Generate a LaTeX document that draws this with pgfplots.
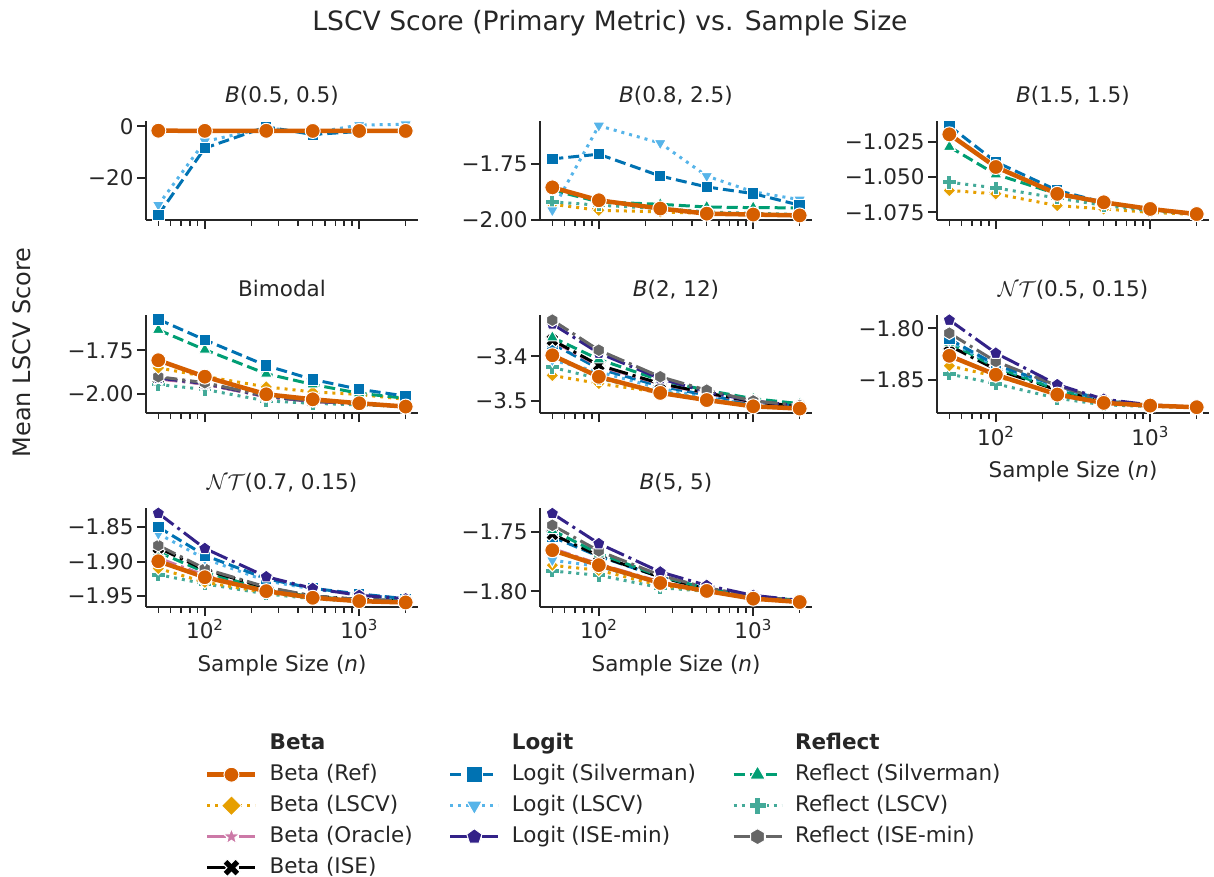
\RequirePackage{fix-cm}
\documentclass[border=0pt]{standalone}
\usepackage{fontspec}
\setmainfont{DejaVu Sans}
\usepackage{pgfplots}
\pgfplotsset{compat=1.18}
\usetikzlibrary{plotmarks}

\definecolor{txt}{HTML}{262626}
\definecolor{cref}{HTML}{D55E00}
\definecolor{cblscv}{HTML}{E69F00}
\definecolor{cbor}{HTML}{CC79A7}
\definecolor{cbise}{HTML}{000000}
\definecolor{clsilv}{HTML}{0072B2}
\definecolor{cllscv}{HTML}{56B4E9}
\definecolor{clise}{HTML}{332288}
\definecolor{crsilv}{HTML}{009E73}
\definecolor{crlscv}{HTML}{44AA99}
\definecolor{crise}{HTML}{666666}

\newcommand\fsT{\fontsize{21.5}{25}\selectfont}

\pgfdeclareplotmark{hexa*}{%
  \pgfpathmoveto{\pgfqpointpolar{90}{\pgfplotmarksize}}%
  \pgfpathlineto{\pgfqpointpolar{150}{\pgfplotmarksize}}%
  \pgfpathlineto{\pgfqpointpolar{210}{\pgfplotmarksize}}%
  \pgfpathlineto{\pgfqpointpolar{270}{\pgfplotmarksize}}%
  \pgfpathlineto{\pgfqpointpolar{330}{\pgfplotmarksize}}%
  \pgfpathlineto{\pgfqpointpolar{30}{\pgfplotmarksize}}%
  \pgfpathclose\pgfusepathqfillstroke}
\pgfdeclareplotmark{fdiam}{%
  \pgfpathmoveto{\pgfqpoint{0pt}{\pgfplotmarksize}}%
  \pgfpathlineto{\pgfqpoint{\pgfplotmarksize}{0pt}}%
  \pgfpathlineto{\pgfpoint{0pt}{-\pgfplotmarksize}}%
  \pgfpathlineto{\pgfpoint{-\pgfplotmarksize}{0pt}}%
  \pgfpathclose\pgfusepathqfillstroke}
\pgfdeclareplotmark{fstar}{%
  \pgfpathmoveto{\pgfpointpolar{90}{\pgfplotmarksize}}%
  \pgfpathlineto{\pgfpointpolar{126}{0.42\pgfplotmarksize}}%
  \pgfpathlineto{\pgfpointpolar{162}{\pgfplotmarksize}}%
  \pgfpathlineto{\pgfpointpolar{198}{0.42\pgfplotmarksize}}%
  \pgfpathlineto{\pgfpointpolar{234}{\pgfplotmarksize}}%
  \pgfpathlineto{\pgfpointpolar{270}{0.42\pgfplotmarksize}}%
  \pgfpathlineto{\pgfpointpolar{306}{\pgfplotmarksize}}%
  \pgfpathlineto{\pgfpointpolar{342}{0.42\pgfplotmarksize}}%
  \pgfpathlineto{\pgfpointpolar{18}{\pgfplotmarksize}}%
  \pgfpathlineto{\pgfpointpolar{54}{0.42\pgfplotmarksize}}%
  \pgfpathclose\pgfusepathqfillstroke}
\pgfdeclareplotmark{fplus}{%
  \pgfpathmoveto{\pgfpoint{-0.36\pgfplotmarksize}{\pgfplotmarksize}}%
  \pgfpathlineto{\pgfpoint{0.36\pgfplotmarksize}{\pgfplotmarksize}}%
  \pgfpathlineto{\pgfpoint{0.36\pgfplotmarksize}{0.36\pgfplotmarksize}}%
  \pgfpathlineto{\pgfpoint{\pgfplotmarksize}{0.36\pgfplotmarksize}}%
  \pgfpathlineto{\pgfpoint{\pgfplotmarksize}{-0.36\pgfplotmarksize}}%
  \pgfpathlineto{\pgfpoint{0.36\pgfplotmarksize}{-0.36\pgfplotmarksize}}%
  \pgfpathlineto{\pgfpoint{0.36\pgfplotmarksize}{-\pgfplotmarksize}}%
  \pgfpathlineto{\pgfpoint{-0.36\pgfplotmarksize}{-\pgfplotmarksize}}%
  \pgfpathlineto{\pgfpoint{-0.36\pgfplotmarksize}{-0.36\pgfplotmarksize}}%
  \pgfpathlineto{\pgfpoint{-\pgfplotmarksize}{-0.36\pgfplotmarksize}}%
  \pgfpathlineto{\pgfpoint{-\pgfplotmarksize}{0.36\pgfplotmarksize}}%
  \pgfpathlineto{\pgfpoint{-0.36\pgfplotmarksize}{0.36\pgfplotmarksize}}%
  \pgfpathclose\pgfusepathqfillstroke}
\pgfdeclareplotmark{fx}{\pgftransformrotate{45}\pgfuseplotmark{fplus}}

\pgfplotsset{mk/.style={mark options={solid, draw=white, fill=#1, line width=1pt}}}
\pgfplotsset{dashedp/.style={dash pattern=on 11pt off 5pt}}
\pgfplotsset{dottedp/.style={dash pattern=on 3pt off 5pt}}
\pgfplotsset{dashdotp/.style={dash pattern=on 19pt off 5pt on 3pt off 5pt}}
\pgfplotsset{sref/.style={color=cref, solid, line width=4.5pt, line join=round, mark=*, mark size=7.5pt, mk=cref}}
\pgfplotsset{sblscv/.style={color=cblscv, dottedp, line width=3pt, mark=fdiam, mark size=6.5pt, mk=cblscv}}
\pgfplotsset{sbor/.style={color=cbor, dashdotp, line width=3pt, mark=fstar, mark size=7.5pt, mk=cbor}}
\pgfplotsset{sbise/.style={color=cbise, dashdotp, line width=3pt, mark=fx, mark size=7pt, mk=cbise}}
\pgfplotsset{slsilv/.style={color=clsilv, dashedp, line width=3pt, mark=square*, mark size=5.7pt, mk=clsilv}}
\pgfplotsset{sllscv/.style={color=cllscv, dottedp, line width=3pt, mark=triangle*, mark size=7pt, mark options={solid, draw=white, fill=cllscv, line width=1pt, rotate=180}}}
\pgfplotsset{slise/.style={color=clise, dashdotp, line width=3pt, mark=pentagon*, mark size=6.5pt, mk=clise}}
\pgfplotsset{srsilv/.style={color=crsilv, dashedp, line width=3pt, mark=triangle*, mark size=7pt, mk=crsilv}}
\pgfplotsset{srlscv/.style={color=crlscv, dottedp, line width=3pt, mark=fplus, mark size=6.8pt, mk=crlscv}}
\pgfplotsset{srise/.style={color=crise, dashdotp, line width=3pt, mark=hexa*, mark size=6.5pt, mk=crise}}
\pgfplotsset{legend image code/.code={\draw[mark repeat=2,mark phase=2,#1] plot coordinates {(0pt,0pt) (24pt,0pt) (48pt,0pt)};}}
\pgfplotsset{mypanel/.style={
    scale only axis, width=272pt, height=98.5pt,
    xmin=41.6, xmax=2404,
    axis x line*=bottom, axis y line*=left,
    axis line style={-, line width=2pt, draw=txt},
    xtick={100,1000},
    minor xtick={50,60,70,80,90,200,300,400,500,600,700,800,900,2000},
    xticklabels={,},
    minor y tick num=0,
    tick align=outside,
    major tick length=9pt, minor tick length=5.7pt,
    major tick style={line width=2pt, draw=txt},
    minor tick style={line width=1.5pt, draw=txt},
    tick label style={font=\fsT, text=txt},
    title style={font=\fsT, text=txt, at={(axis description cs:0.5,1)}, anchor=base, yshift=12.5pt},
    xlabel style={font=\fsT, text=txt, at={(axis description cs:0.5,0)}, anchor=base, yshift=-64.5pt},
}}
\pgfplotsset{bottomrow/.style={xticklabels={10\textsuperscript{2},10\textsuperscript{3}}, xlabel={Sample Size (\textit{n})}}}

\begin{document}
\begin{tikzpicture}
\path[use as bounding box] (0pt,0pt) rectangle (1214pt,877pt);

\node[font=\fontsize{26.6}{30}\selectfont, text=txt, anchor=base] at (610pt,846pt) {LSCV Score (Primary Metric) vs. Sample Size};
\node[font=\fontsize{24}{28}\selectfont, text=txt, rotate=90] at (22pt,524.5pt) {Mean LSCV Score};

% Panel 1
\begin{axis}[xmode=log, mypanel, anchor=south west, at={(146pt,657pt)}, ymin=-36.6, ymax=1.9, ytick={0,-20}, yticklabels={0,−20}, title={\textit{B}(0.5, 0.5)}]
\addplot[sllscv] coordinates {(50,-30.7)(100,-5.9)(250,-0.6)(500,-2.6)(1000,0.5)(2000,0.8)};
\addplot[slsilv] coordinates {(50,-34.6)(100,-8.5)(250,-0.2)(500,-3.2)(1000,-2.0)(2000,-1.6)};
\addplot[sref] coordinates {(50,-1.7)(100,-1.75)(250,-1.75)(500,-1.8)(1000,-1.8)(2000,-1.8)};
\end{axis}

% Panel 2
\begin{axis}[xmode=log, mypanel, anchor=south west, at={(540pt,657pt)}, ymin=-2.0015, ymax=-1.559, ytick={-1.75,-2.0}, yticklabels={−1.75,−2.00}, title={\textit{B}(0.8, 2.5)}]
\addplot[sblscv] coordinates {(50,-1.931)(100,-1.958)(250,-1.965)(500,-1.972)(1000,-1.977)(2000,-1.980)};
\addplot[srlscv] coordinates {(50,-1.920)(100,-1.935)(250,-1.950)(500,-1.965)(1000,-1.972)(2000,-1.976)};
\addplot[srsilv] coordinates {(50,-1.867)(100,-1.920)(250,-1.931)(500,-1.943)(1000,-1.946)(2000,-1.947)};
\addplot[sllscv] coordinates {(50,-1.958)(100,-1.578)(250,-1.656)(500,-1.804)(1000,-1.875)(2000,-1.910)};
\addplot[slsilv] coordinates {(50,-1.727)(100,-1.706)(250,-1.804)(500,-1.853)(1000,-1.883)(2000,-1.935)};
\addplot[sref] coordinates {(50,-1.855)(100,-1.913)(250,-1.950)(500,-1.973)(1000,-1.977)(2000,-1.981)};
\end{axis}

% Panel 3
\begin{axis}[xmode=log, mypanel, anchor=south west, at={(937pt,657pt)}, ymin=-1.0804, ymax=-1.0107, ytick={-1.025,-1.05,-1.075}, yticklabels={−1.025,−1.050,−1.075}, title={\textit{B}(1.5, 1.5)}]
\addplot[sblscv] coordinates {(50,-1.0595)(100,-1.0619)(250,-1.0702)(500,-1.0726)(1000,-1.0750)(2000,-1.0765)};
\addplot[srlscv] coordinates {(50,-1.0537)(100,-1.0577)(250,-1.0649)(500,-1.0700)(1000,-1.0740)(2000,-1.0762)};
\addplot[srsilv] coordinates {(50,-1.0286)(100,-1.0481)(250,-1.0620)(500,-1.0685)(1000,-1.0730)(2000,-1.0762)};
\addplot[slsilv] coordinates {(50,-1.0138)(100,-1.0393)(250,-1.0595)(500,-1.0680)(1000,-1.0730)(2000,-1.0760)};
\addplot[sref] coordinates {(50,-1.0198)(100,-1.0429)(250,-1.0619)(500,-1.0679)(1000,-1.0726)(2000,-1.0762)};
\end{axis}

% Panel 4
\begin{axis}[xmode=log, mypanel, anchor=south west, at={(146pt,463.5pt)}, ymin=-2.115, ymax=-1.545, ytick={-1.75,-2.0}, yticklabels={−1.75,−2.00}, title={Bimodal}]
\addplot[srlscv] coordinates {(50,-1.947)(100,-1.976)(250,-2.042)(500,-2.056)(1000,-2.065)(2000,-2.075)};
\addplot[sbise] coordinates {(50,-1.912)(100,-1.944)(250,-2.017)(500,-2.045)(1000,-2.058)(2000,-2.076)};
\addplot[sbor] coordinates {(50,-1.915)(100,-1.945)(250,-2.018)(500,-2.045)(1000,-2.058)(2000,-2.076)};
\addplot[slise] coordinates {(50,-1.910)(100,-1.942)(250,-2.016)(500,-2.044)(1000,-2.057)(2000,-2.075)};
\addplot[srise] coordinates {(50,-1.902)(100,-1.937)(250,-2.013)(500,-2.042)(1000,-2.056)(2000,-2.075)};
\addplot[sblscv] coordinates {(50,-1.851)(100,-1.900)(250,-1.961)(500,-1.990)(1000,-2.005)(2000,-2.033)};
\addplot[srsilv] coordinates {(50,-1.631)(100,-1.746)(250,-1.885)(500,-1.947)(1000,-1.998)(2000,-2.027)};
\addplot[slsilv] coordinates {(50,-1.570)(100,-1.689)(250,-1.838)(500,-1.918)(1000,-1.975)(2000,-2.014)};
\addplot[sref] coordinates {(50,-1.807)(100,-1.902)(250,-2.004)(500,-2.033)(1000,-2.056)(2000,-2.075)};
\end{axis}

% Panel 5
\begin{axis}[xmode=log, mypanel, anchor=south west, at={(540pt,463.5pt)}, ymin=-3.528, ymax=-3.308, ytick={-3.4,-3.5}, yticklabels={−3.4,−3.5}, title={\textit{B}(2, 12)}]
\addplot[sblscv] coordinates {(50,-3.443)(100,-3.461)(250,-3.481)(500,-3.498)(1000,-3.512)(2000,-3.517)};
\addplot[srlscv] coordinates {(50,-3.425)(100,-3.450)(250,-3.478)(500,-3.496)(1000,-3.511)(2000,-3.516)};
\addplot[sllscv] coordinates {(50,-3.409)(100,-3.435)(250,-3.472)(500,-3.492)(1000,-3.508)(2000,-3.514)};
\addplot[slsilv] coordinates {(50,-3.372)(100,-3.428)(250,-3.467)(500,-3.487)(1000,-3.506)(2000,-3.512)};
\addplot[sbor] coordinates {(50,-3.366)(100,-3.422)(250,-3.462)(500,-3.483)(1000,-3.503)(2000,-3.512)};
\addplot[sbise] coordinates {(50,-3.364)(100,-3.420)(250,-3.461)(500,-3.482)(1000,-3.502)(2000,-3.512)};
\addplot[srsilv] coordinates {(50,-3.358)(100,-3.407)(250,-3.454)(500,-3.476)(1000,-3.495)(2000,-3.506)};
\addplot[slise] coordinates {(50,-3.328)(100,-3.393)(250,-3.450)(500,-3.480)(1000,-3.500)(2000,-3.511)};
\addplot[srise] coordinates {(50,-3.3195)(100,-3.3866)(250,-3.446)(500,-3.476)(1000,-3.500)(2000,-3.510)};
\addplot[sref] coordinates {(50,-3.398)(100,-3.446)(250,-3.482)(500,-3.498)(1000,-3.512)(2000,-3.517)};
\end{axis}

% Panel 6
\begin{axis}[xmode=log, mypanel, bottomrow, anchor=south west, at={(937pt,463.5pt)}, ymin=-1.8829, ymax=-1.7871, ytick={-1.80,-1.85}, yticklabels={−1.80,−1.85}, title={$\mathcal{N}\mathcal{T}$(0.5, 0.15)}]
\addplot[srlscv] coordinates {(50,-1.8445)(100,-1.854)(250,-1.8681)(500,-1.8745)(1000,-1.876)(2000,-1.877)};
\addplot[sblscv] coordinates {(50,-1.8365)(100,-1.8468)(250,-1.863)(500,-1.8726)(1000,-1.876)(2000,-1.877)};
\addplot[sbor] coordinates {(50,-1.826)(100,-1.845)(250,-1.864)(500,-1.8725)(1000,-1.8752)(2000,-1.8768)};
\addplot[sbise] coordinates {(50,-1.817)(100,-1.840)(250,-1.860)(500,-1.8715)(1000,-1.875)(2000,-1.877)};
\addplot[srsilv] coordinates {(50,-1.814)(100,-1.838)(250,-1.8597)(500,-1.871)(1000,-1.875)(2000,-1.877)};
\addplot[sllscv] coordinates {(50,-1.812)(100,-1.837)(250,-1.857)(500,-1.871)(1000,-1.875)(2000,-1.877)};
\addplot[slsilv] coordinates {(50,-1.8106)(100,-1.8355)(250,-1.856)(500,-1.8705)(1000,-1.875)(2000,-1.877)};
\addplot[srise] coordinates {(50,-1.8048)(100,-1.8323)(250,-1.8558)(500,-1.870)(1000,-1.875)(2000,-1.877)};
\addplot[slise] coordinates {(50,-1.792)(100,-1.8242)(250,-1.8548)(500,-1.869)(1000,-1.8745)(2000,-1.8768)};
\addplot[sref] coordinates {(50,-1.8268)(100,-1.8452)(250,-1.8645)(500,-1.8726)(1000,-1.8752)(2000,-1.8768)};
\end{axis}

% Panel 7
\begin{axis}[xmode=log, mypanel, bottomrow, anchor=south west, at={(146pt,270pt)}, ymin=-1.966, ymax=-1.823, ytick={-1.85,-1.90,-1.95}, yticklabels={−1.85,−1.90,−1.95}, title={$\mathcal{N}\mathcal{T}$(0.7, 0.15)}]
\addplot[srlscv] coordinates {(50,-1.919)(100,-1.9324)(250,-1.947)(500,-1.954)(1000,-1.958)(2000,-1.959)};
\addplot[sblscv] coordinates {(50,-1.910)(100,-1.930)(250,-1.945)(500,-1.953)(1000,-1.958)(2000,-1.959)};
\addplot[sbor] coordinates {(50,-1.895)(100,-1.920)(250,-1.942)(500,-1.952)(1000,-1.957)(2000,-1.959)};
\addplot[srsilv] coordinates {(50,-1.8863)(100,-1.9153)(250,-1.941)(500,-1.951)(1000,-1.956)(2000,-1.957)};
\addplot[sbise] coordinates {(50,-1.880)(100,-1.912)(250,-1.938)(500,-1.950)(1000,-1.955)(2000,-1.957)};
\addplot[srise] coordinates {(50,-1.8766)(100,-1.9104)(250,-1.937)(500,-1.950)(1000,-1.955)(2000,-1.957)};
\addplot[sllscv] coordinates {(50,-1.8597)(100,-1.896)(250,-1.928)(500,-1.940)(1000,-1.948)(2000,-1.954)};
\addplot[slsilv] coordinates {(50,-1.850)(100,-1.891)(250,-1.925)(500,-1.939)(1000,-1.947)(2000,-1.954)};
\addplot[slise] coordinates {(50,-1.8299)(100,-1.881)(250,-1.922)(500,-1.939)(1000,-1.949)(2000,-1.954)};
\addplot[sref] coordinates {(50,-1.8996)(100,-1.9228)(250,-1.943)(500,-1.9526)(1000,-1.9575)(2000,-1.9594)};
\end{axis}

% Panel 8
\begin{axis}[xmode=log, mypanel, bottomrow, anchor=south west, at={(540pt,270pt)}, ymin=-1.8132, ymax=-1.7303, ytick={-1.75,-1.80}, yticklabels={−1.75,−1.80}, title={\textit{B}(5, 5)}]
\addplot[srlscv] coordinates {(50,-1.7829)(100,-1.7865)(250,-1.7969)(500,-1.800)(1000,-1.806)(2000,-1.809)};
\addplot[sblscv] coordinates {(50,-1.7781)(100,-1.7823)(250,-1.795)(500,-1.800)(1000,-1.806)(2000,-1.809)};
\addplot[sllscv] coordinates {(50,-1.7739)(100,-1.779)(250,-1.7935)(500,-1.7995)(1000,-1.806)(2000,-1.809)};
\addplot[sbor] coordinates {(50,-1.764)(100,-1.777)(250,-1.792)(500,-1.7995)(1000,-1.806)(2000,-1.809)};
\addplot[slsilv] coordinates {(50,-1.7542)(100,-1.7705)(250,-1.788)(500,-1.798)(1000,-1.805)(2000,-1.808)};
\addplot[sbise] coordinates {(50,-1.752)(100,-1.770)(250,-1.788)(500,-1.798)(1000,-1.8045)(2000,-1.808)};
\addplot[srsilv] coordinates {(50,-1.7486)(100,-1.7682)(250,-1.7873)(500,-1.7977)(1000,-1.8042)(2000,-1.8076)};
\addplot[srise] coordinates {(50,-1.7444)(100,-1.766)(250,-1.7865)(500,-1.797)(1000,-1.804)(2000,-1.808)};
\addplot[slise] coordinates {(50,-1.7345)(100,-1.7598)(250,-1.7837)(500,-1.795)(1000,-1.8034)(2000,-1.8076)};
\addplot[sref] coordinates {(50,-1.7654)(100,-1.778)(250,-1.793)(500,-1.7997)(1000,-1.8062)(2000,-1.809)};
\end{axis}

% Legend
\begin{axis}[hide axis, scale only axis, width=10pt, height=10pt, at={(205pt,144pt)}, anchor=north west,
  xmin=0, xmax=1, ymin=0, ymax=1,
  legend columns=3,
  legend style={draw=none, fill=none, at={(axis description cs:0,1)}, anchor=north west,
    font=\fsT, text=txt, inner sep=0pt, row sep=10pt, cells={anchor=west},
    nodes={inner sep=0pt, text height=16pt, text depth=5pt},
    /tikz/every even column/.append style={column sep=36pt},
    /tikz/every odd column/.append style={column sep=12pt}},
]
\addlegendimage{empty legend}\addlegendentry{\textbf{Beta}}
\addlegendimage{empty legend}\addlegendentry{\textbf{Logit}}
\addlegendimage{empty legend}\addlegendentry{\textbf{Reflect}}
\addlegendimage{sref}\addlegendentry{Beta (Ref)}
\addlegendimage{slsilv, mark size=8pt}\addlegendentry{Logit (Silverman)}
\addlegendimage{srsilv, mark size=9pt}\addlegendentry{Reflect (Silverman)}
\addlegendimage{sblscv, mark size=10pt}\addlegendentry{Beta (LSCV)}
\addlegendimage{sllscv, mark size=9pt}\addlegendentry{Logit (LSCV)}
\addlegendimage{srlscv, mark size=8.5pt}\addlegendentry{Reflect (LSCV)}
\addlegendimage{sbor, mark size=8.5pt}\addlegendentry{Beta (Oracle)}
\addlegendimage{slise, mark size=8pt}\addlegendentry{Logit (ISE-min)}
\addlegendimage{srise, mark size=8pt}\addlegendentry{Reflect (ISE-min)}
\addlegendimage{sbise, mark size=9pt}\addlegendentry{Beta (ISE)}
\end{axis}
\end{tikzpicture}
\end{document}
